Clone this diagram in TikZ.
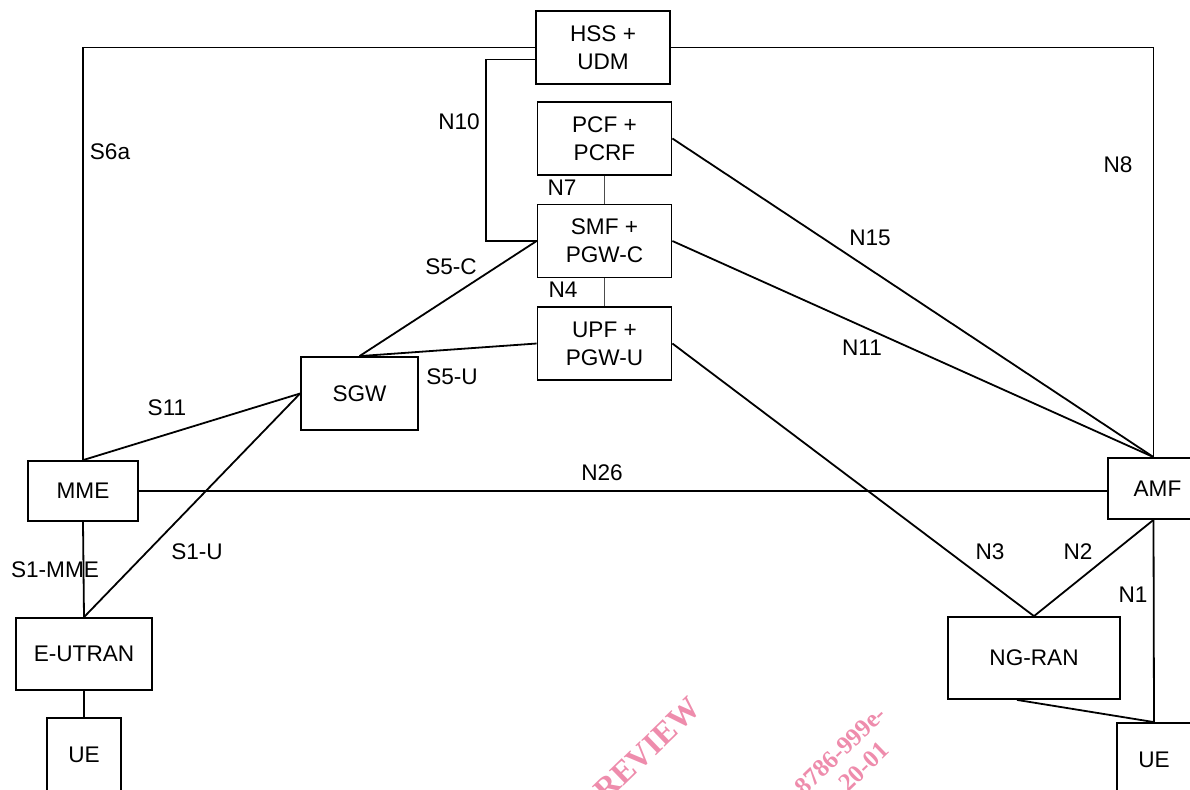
\documentclass[tikz,border=0pt]{standalone}
\usepackage{fontspec}
\setmainfont{Liberation Sans}
\newfontfamily\wmfont{Liberation Serif}
\usepackage{tikz}
\usetikzlibrary{positioning,calc}
\usepackage{xcolor}
\definecolor{wmpink}{RGB}{238,140,172}

\begin{document}
\begin{tikzpicture}[
  x=0.5pt, y=-0.5pt,
  nf/.style={draw, line width=0.9pt, fill=white, align=center,
             inner sep=0pt, font=\fontsize{11.3}{14}\selectfont},
  core/.style={nf, minimum width=67pt, minimum height=36.5pt},
  lbl/.style={font=\fontsize{11.3}{14}\selectfont, inner sep=0pt},
  ln/.style={draw, line width=0.9pt},
  thin/.style={draw, line width=0.4pt, black!70},
  wm/.style={text=wmpink, font=\wmfont\bfseries\fontsize{16}{16}\selectfont,
             rotate=44, inner sep=0pt},
  wmsmall/.style={wm, font=\wmfont\bfseries\fontsize{12.5}{12.5}\selectfont}
]
\useasboundingbox (0,0) rectangle (1190,789);

\node[wm, anchor=base east] at (703,710) {PREVIEW};
\node[wmsmall, anchor=base east] at (888,716) {8786-999e-};
\node[wmsmall, anchor=base east] at (891,752) {20-01};

\node[core] (hss) at (603,47.5) {HSS +\\UDM};
\node[core] (pcf) at (604.5,138.5) {PCF +\\PCRF};
\node[core] (smf) at (604.5,241) {SMF +\\PGW-C};
\node[core] (upf) at (604.5,343.5) {UPF +\\PGW-U};
\node[nf, minimum width=58.5pt, minimum height=36.5pt] (sgw) at (359.5,393.5) {SGW};
\node[nf, minimum width=55pt, minimum height=30pt] (mme) at (83,491) {MME};
\node[nf, minimum width=49.5pt, minimum height=30.5pt] (amf) at (1157.5,488.5) {AMF};
\node[nf, minimum width=68pt, minimum height=36pt] (eutran) at (84,654) {E-UTRAN};
\node[nf, minimum width=37pt, minimum height=36.5pt] (uel) at (84,754.5) {UE};
\node[nf, minimum width=86pt, minimum height=41pt] (ngran) at (1034,658) {NG-RAN};
\node[nf, minimum width=37pt, minimum height=36.5pt] (uer) at (1154,759.5) {UE};

\draw[ln] (hss.west) -| (mme.north);
\draw[ln] (hss.east) -| ([xshift=-2pt]amf.north);
\draw[ln] ([yshift=-6pt]hss.west) -- ++(-24.5pt,0) |- (smf.west);
\draw[thin] (pcf.south) -- (smf.north);
\draw[thin] (smf.south) -- (upf.north);
\draw[ln] (smf.west) -- (sgw.north);
\draw[ln] (sgw.north) -- (upf.west);
\draw[ln] (pcf.east) -- ([xshift=-2pt]amf.north);
\draw[ln] (smf.east) -- ([xshift=-2pt]amf.north);
\draw[ln] (upf.east) -- (ngran.north);
\draw[ln] ([xshift=-2pt]amf.south) -- (ngran.north);
\draw[ln] ([xshift=-2pt]amf.south) -- (uer.north);
\draw[ln] ([xshift=-8.5pt]ngran.south) -- (uer.north);
\draw[ln] (mme.east) -- (mme.east -| amf.west);
\draw[ln] (mme.north) -- (sgw.west);
\draw[ln] (eutran.north) -- (sgw.west);
\draw[ln] (mme.south) -- (eutran.north);
\draw[ln] (eutran.south) -- (uel.north);

\node[lbl] (s6a) at (110,152) {S6a};
\node[lbl] (n10) at (459,122) {N10};
\node[lbl] (n7) at (562,188) {N7};
\node[lbl] (s5c) at (451,267) {S5-C};
\node[lbl] (n4) at (563,290) {N4};
\node[lbl] (s5u) at (452,377) {S5-U};
\node[lbl] (s11) at (167,408) {S11};
\node[lbl] (s1mme) at (55,570) {S1-MME};
\node[lbl] (s1u) at (197,552) {S1-U};
\node[lbl] (n26) at (602,473) {N26};
\node[lbl] (n15) at (870,238) {N15};
\node[lbl] (n11) at (862,348) {N11};
\node[lbl] (n8) at (1118,165) {N8};
\node[lbl] (n3) at (990,552) {N3};
\node[lbl] (n2) at (1078,552) {N2};
\node[lbl] (n1) at (1133,595) {N1};
\end{tikzpicture}
\end{document}
